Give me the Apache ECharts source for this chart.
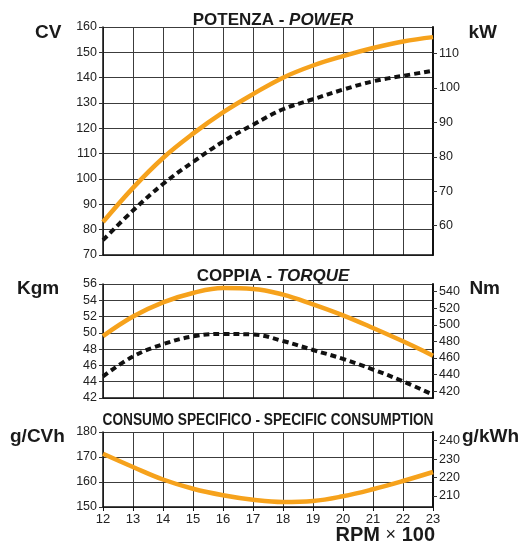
<!DOCTYPE html>
<html><head><meta charset="utf-8">
<script src="https://cdn.jsdelivr.net/npm/echarts@6/dist/echarts.min.js"></script>
<style>html,body{margin:0;padding:0;background:#fff}#c{width:526px;height:545px}</style>
</head><body><div id="c"></div>
<script>
const rpm = [12,13,14,15,16,17,18,19,20,21,22,23];
const powerCV = [83.0,96.5,108.3,117.9,126.3,133.5,140.0,144.8,148.5,151.7,154.3,156.0];
const powerKW = [55.8,64.4,72.1,78.5,84.4,89.3,93.8,96.7,99.5,101.9,103.5,105.0];
const torqueKgm = [49.6,52.0,53.75,54.9,55.5,55.4,54.7,53.5,52.15,50.6,48.96,47.2];
const torqueNm = [438,461.9,476.6,486.1,489.0,488.4,480.5,469.7,459.0,446.2,432.0,415.8];
const consGCVh = [171.3,166.0,161.0,157.3,154.7,152.9,152.0,152.4,154.3,157.1,160.4,164.0];
const kwTicks = [60,70,80,90,100,110];
const nmTicks = [420,440,460,480,500,520,540];
const gkwhTicks = [210,220,230,240];

const CV_PER_KW = 1.3596, NM_PER_KGM = 9.80665;
const ORANGE = '#f6a21c';
const FONT = 'Liberation Sans, Arial, sans-serif';
const gridColor = '#3c3c3c';

const chart = echarts.init(document.getElementById('c'), null, {renderer:'canvas'});
const pairs = a => rpm.map((x,i)=>[x,a[i]]);

const grids = [
  {left:103, right:93, top:27, height:228},
  {left:103, right:93, top:284, height:114},
  {left:103, right:93, top:432, height:75}
];
const xAxes = grids.map((g,i)=>({
  type:'value', gridIndex:i, min:12, max:23, interval:1,
  axisLine:{show:true, lineStyle:{color:'#111', width:1.5}},
  axisTick:{show:i===2, length:4, lineStyle:{color:'#111'}},
  axisLabel:{show:i===2, color:'#222', fontSize:13, fontFamily:FONT, margin:6},
  splitLine:{show:true, lineStyle:{color:gridColor, width:1}}
}));
function leftAxis(gi,min,max,interval){
  return {type:'value', gridIndex:gi, position:'left', min, max, interval,
    axisLine:{show:true, lineStyle:{color:'#111', width:1.5}},
    axisTick:{show:true, length:4, lineStyle:{color:'#333'}},
    axisLabel:{color:'#222', fontSize:12.5, fontFamily:FONT, margin:6},
    splitLine:{show:true, lineStyle:{color:gridColor, width:1}}};
}
function rightAxis(gi,min,max,ticks){
  return {type:'value', gridIndex:gi, position:'right', min, max,
    axisLine:{show:true, lineStyle:{color:'#111', width:2}},
    axisTick:{show:true, length:4, customValues:ticks, lineStyle:{color:'#333'}},
    axisLabel:{color:'#222', fontSize:12.5, fontFamily:FONT, margin:6, customValues:ticks},
    splitLine:{show:false}};
}
const yAxes = [
  leftAxis(0,70,160,10),
  rightAxis(0,70/CV_PER_KW,160/CV_PER_KW,kwTicks),
  leftAxis(1,42,56,2),
  rightAxis(1,42*NM_PER_KGM,56*NM_PER_KGM,nmTicks),
  leftAxis(2,150,180,10),
  rightAxis(2,150*CV_PER_KW,180*CV_PER_KW,gkwhTicks)
];
const solid = (data,xi,yi)=>({type:'line', xAxisIndex:xi, yAxisIndex:yi, data:pairs(data), smooth:0.4, showSymbol:false, symbol:'none',
  lineStyle:{color:ORANGE, width:4.5}, z:5});
const dashed = (data,xi,yi)=>({type:'line', xAxisIndex:xi, yAxisIndex:yi, data:pairs(data), smooth:0.4, showSymbol:false, symbol:'none',
  lineStyle:{color:'#111', width:4, type:[6,4]}, z:4});

const titleStyle = {fontSize:17, fontWeight:'bold', fontFamily:FONT, color:'#1a1a1a'};
const unit = (text,x,y,align)=>({type:'text', left:align==='left'?x:undefined, right:align==='right'?x:undefined, top:y,
  style:{text, font:'bold 19px '+FONT, fill:'#1a1a1a'}});

chart.setOption({
  animation:false,
  grid:grids, xAxis:xAxes, yAxis:yAxes,
  title:[
    {text:'POTENZA - {i|POWER}', left:268, top:7, textAlign:'center',
     textStyle:Object.assign({rich:{i:Object.assign({fontStyle:'italic'},titleStyle)}},titleStyle)},
    {text:'COPPIA - {i|TORQUE}', left:268, top:263, textAlign:'center',
     textStyle:Object.assign({rich:{i:Object.assign({fontStyle:'italic'},titleStyle)}},titleStyle)}
  ],
  graphic:[
    {type:'text', x:268, y:421, scaleX:0.856, z:10,
     style:{text:'CONSUMO SPECIFICO - SPECIFIC CONSUMPTION', font:'bold 16px '+FONT, fill:'#1a1a1a',
            textAlign:'center', textVerticalAlign:'middle'}},
    unit('CV',35,23,'left'),
    unit('kW',29,23,'right'),
    unit('Kgm',17,279,'left'),
    unit('Nm',26,279,'right'),
    unit('g/CVh',10,427,'left'),
    unit('g/kWh',7,427,'right'),
    {type:'text', right:91, top:525, style:{text:'{b|RPM }{x|×}{b| 100}', rich:{
      b:{font:'bold 20px '+FONT, fill:'#1a1a1a'}, x:{font:'18px '+FONT, fill:'#1a1a1a'}}}}
  ],
  series:[
    solid(powerCV,0,0), dashed(powerKW,0,1),
    solid(torqueKgm,1,2), dashed(torqueNm,1,3),
    solid(consGCVh,2,4)
  ]
});
</script></body></html>
